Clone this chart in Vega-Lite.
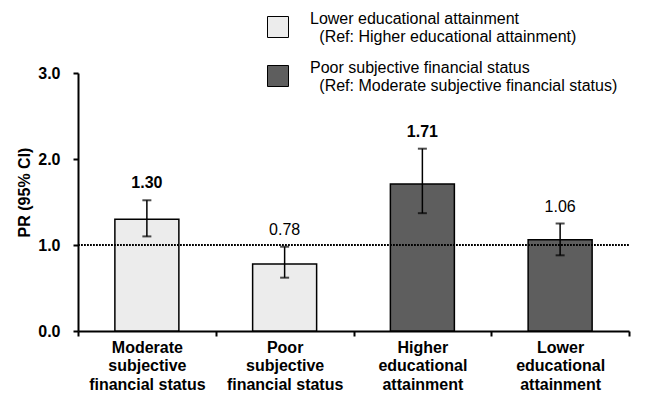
{
  "$schema": "https://vega.github.io/schema/vega-lite/v6.json",
  "width": 551,
  "height": 258,
  "autosize": {"type": "none"},
  "padding": {"left": 78, "top": 73, "right": 20, "bottom": 75},
  "background": "white",
  "config": {
    "view": {"stroke": null},
    "font": "Liberation Sans",
    "axis": {
      "domainColor": "black",
      "domainWidth": 2,
      "tickColor": "black",
      "tickWidth": 2,
      "tickSize": 5,
      "labelColor": "black",
      "labelFont": "Liberation Sans",
      "labelFontSize": 16,
      "labelFontWeight": "bold",
      "titleColor": "black",
      "titleFont": "Liberation Sans",
      "titleFontSize": 16,
      "titleFontWeight": "bold",
      "grid": false
    }
  },
  "data": {
    "values": [
      {"category": "Moderate subjective financial status", "group": "Lower educational attainment", "pr": 1.30, "lo": 1.10, "hi": 1.52, "sig": true},
      {"category": "Poor subjective financial status", "group": "Lower educational attainment", "pr": 0.78, "lo": 0.62, "hi": 0.98, "sig": false},
      {"category": "Higher educational attainment", "group": "Poor subjective financial status", "pr": 1.71, "lo": 1.37, "hi": 2.12, "sig": true},
      {"category": "Lower educational attainment", "group": "Poor subjective financial status", "pr": 1.06, "lo": 0.88, "hi": 1.25, "sig": false}
    ]
  },
  "encoding": {
    "x": {
      "field": "category",
      "type": "nominal",
      "sort": null,
      "scale": {"paddingInner": 0, "paddingOuter": 0},
      "axis": {
        "title": null,
        "labelAngle": 0,
        "tickBand": "extent",
        "labelPadding": 3,
        "labelBaseline": "top",
        "labelLineHeight": 18.5,
        "labelLimit": 200,
        "labelExpr": "datum.extra ? '' : datum.value == 'Moderate subjective financial status' ? ['Moderate', 'subjective', 'financial status'] : datum.value == 'Poor subjective financial status' ? ['Poor', 'subjective', 'financial status'] : datum.value == 'Higher educational attainment' ? ['Higher', 'educational', 'attainment'] : ['Lower', 'educational', 'attainment']"
      }
    }
  },
  "layer": [
    {
      "mark": {"type": "bar", "size": 64, "stroke": "black", "strokeWidth": 1.5},
      "encoding": {
        "y": {
          "field": "pr",
          "type": "quantitative",
          "scale": {"domain": [0, 3], "nice": false},
          "axis": {
            "title": "PR (95% CI)",
            "values": [0, 1, 2, 3],
            "format": ".1f",
            "labelPadding": 13,
            "titlePadding": 5,
            "titleY": 119
          }
        },
        "fill": {
          "field": "group",
          "type": "nominal",
          "scale": {
            "domain": ["Lower educational attainment", "Poor subjective financial status"],
            "range": ["#ececec", "#5e5e5e"]
          },
          "legend": {
            "title": null,
            "orient": "none",
            "legendX": 189,
            "legendY": -57,
            "direction": "vertical",
            "symbolType": "square",
            "symbolSize": 441,
            "symbolStrokeColor": "black",
            "symbolStrokeWidth": 1,
            "labelFont": "Liberation Sans",
            "labelFontSize": 16,
            "labelColor": "black",
            "labelBaseline": "bottom",
            "labelOffset": 21,
            "labelLimit": 400,
            "rowPadding": 15,
            "labelExpr": "datum.label == 'Lower educational attainment' ? ['Lower educational attainment', '\u200b\u2002\u200a(Ref: Higher educational attainment)'] : ['Poor subjective financial status', '\u200b\u2002\u200a(Ref: Moderate subjective financial status)']"
          }
        }
      }
    },
    {
      "mark": {"type": "rule", "color": "black", "strokeWidth": 1.5, "strokeDash": [1.5, 1.5]},
      "encoding": {"y": {"datum": 1}, "x": {"value": 0}, "x2": {"value": 551}}
    },
    {
      "mark": {"type": "rule", "color": "black", "strokeWidth": 1.5},
      "encoding": {"y": {"field": "lo", "type": "quantitative"}, "y2": {"field": "hi"}}
    },
    {
      "mark": {"type": "tick", "color": "black", "thickness": 2, "size": 9},
      "encoding": {"y": {"field": "lo", "type": "quantitative"}}
    },
    {
      "mark": {"type": "tick", "color": "black", "thickness": 2, "size": 9},
      "encoding": {"y": {"field": "hi", "type": "quantitative"}}
    },
    {
      "transform": [{"filter": "datum.sig"}],
      "mark": {"type": "text", "baseline": "bottom", "dy": -9, "fontSize": 16, "fontWeight": "bold", "color": "black"},
      "encoding": {"y": {"field": "hi", "type": "quantitative"}, "text": {"field": "pr", "type": "quantitative", "format": ".2f"}}
    },
    {
      "transform": [{"filter": "!datum.sig"}],
      "mark": {"type": "text", "baseline": "bottom", "dy": -9, "fontSize": 16, "color": "black"},
      "encoding": {"y": {"field": "hi", "type": "quantitative"}, "text": {"field": "pr", "type": "quantitative", "format": ".2f"}}
    }
  ]
}
